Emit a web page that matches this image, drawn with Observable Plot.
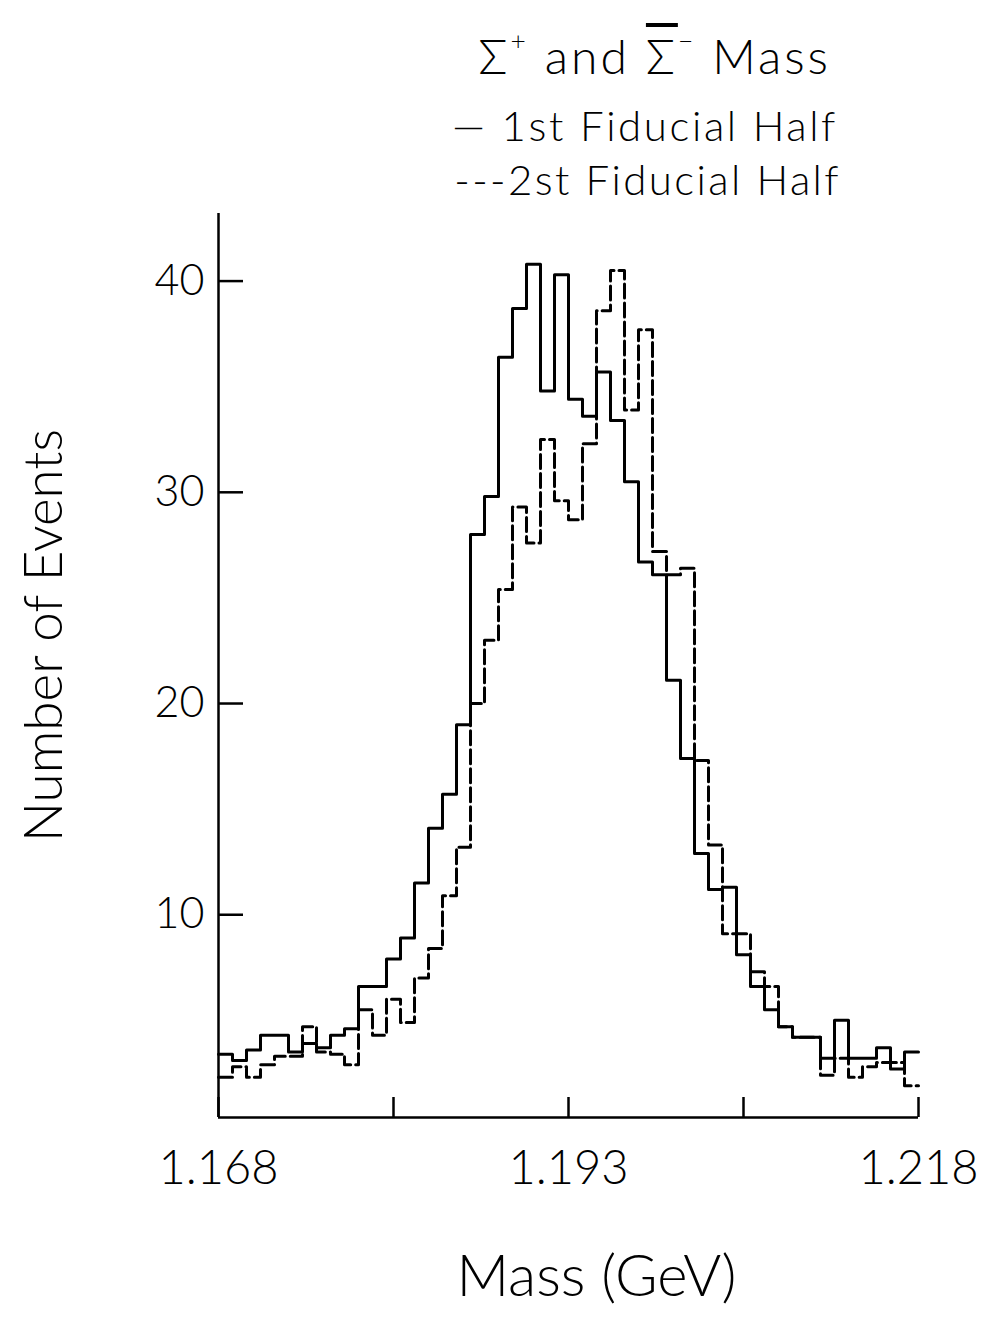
<!DOCTYPE html>
<html>
<head>
<meta charset="utf-8">
<script src="https://cdn.jsdelivr.net/npm/d3@7"></script>
<script src="https://cdn.jsdelivr.net/npm/@observablehq/plot@0.6"></script>
<style>
  html, body { margin: 0; padding: 0; background: #fff; }
  body { width: 989px; height: 1322px; position: relative; overflow: hidden;
         font-family: Lato, Roboto, "DejaVu Sans", sans-serif; color: #000; }
  #header { position: relative; width: 989px; height: 195px; }
  .hl { position: absolute; white-space: nowrap; font-weight: 300; line-height: 1; text-align: right; }
  #title { right: 158px; top: 27px; font-size: 48px; letter-spacing: 3px; }
  #leg1 { right: 151px; top: 104px; font-size: 42px; letter-spacing: 2.6px; }
  #leg2 { right: 148px; top: 158px; font-size: 42px; letter-spacing: 2.4px; }
  .ov { text-decoration: overline; }
  sup { font-size: 0.55em; vertical-align: 0.9em; }
</style>
</head>
<body>
<div id="header">
  <div class="hl" id="title">Σ<sup>+</sup> and <span class="ov">Σ</span><sup>−</sup> Mass</div>
  <div class="hl" id="leg1">— 1st Fiducial Half</div>
  <div class="hl" id="leg2">---2st Fiducial Half</div>
</div>
<div id="chart"></div>
<script>
// Bin edges (GeV), 1 MeV bins
const binEdges = [1.168,1.169,1.170,1.171,1.172,1.173,1.174,1.175,1.176,1.177,
                  1.178,1.179,1.180,1.181,1.182,1.183,1.184,1.185,1.186,1.187,
                  1.188,1.189,1.190,1.191,1.192,1.193,1.194,1.195,1.196,1.197,
                  1.198,1.199,1.200,1.201,1.202,1.203,1.204,1.205,1.206,1.207,
                  1.208,1.209,1.210,1.211,1.212,1.213,1.214,1.215,1.216,1.217,1.218];

// 1st fiducial half (solid)
const firstHalf = [3.4,3.1,3.6,4.3,4.3,3.5,3.9,3.7,4.3,4.6,
                   6.6,6.6,7.9,8.9,11.5,14.1,15.7,19.0,28.0,29.8,
                   36.4,38.7,40.8,34.8,40.3,34.4,33.6,35.7,33.4,30.5,
                   26.7,26.1,21.1,17.4,12.9,11.2,11.3,8.1,6.6,5.5,
                   4.7,4.2,4.2,3.2,5.0,3.2,3.2,3.7,2.7,3.5];

// 2nd fiducial half (dashed)
const secondHalf = [2.3,2.8,2.3,2.9,3.3,3.3,4.7,3.5,3.4,2.9,
                    5.5,4.3,6.0,4.9,7.0,8.4,10.9,13.2,20.0,23.0,
                    25.4,29.3,27.6,32.5,29.6,28.7,32.3,38.6,40.5,33.9,
                    37.7,27.2,26.1,26.4,17.3,13.3,9.1,9.1,7.3,6.6,
                    4.7,4.2,4.2,2.4,3.2,2.3,2.8,3.0,3.0,1.9];

const xDomain = [1.168, 1.218];
const yDomain = [0.4, 43.2];
const xTicks = [1.168, 1.1805, 1.193, 1.2055, 1.218];
const xTickLabels = [1.168, 1.193, 1.218];
const yTicks = [10, 20, 30, 40];

function steps(values) {
  const pts = [];
  values.forEach((v, i) => {
    pts.push({x: binEdges[i], y: v});
    pts.push({x: binEdges[i + 1], y: v});
  });
  return pts;
}

const font = "Lato, Roboto, 'DejaVu Sans', sans-serif";

const chart = Plot.plot({
  width: 989,
  height: 1127,
  marginLeft: 218,
  marginRight: 71,
  marginTop: 18,
  marginBottom: 205,
  x: {domain: xDomain},
  y: {domain: yDomain},
  style: {fontFamily: font, background: "white", color: "black"},
  marks: [
    Plot.ruleX([xDomain[0]], {strokeWidth: 2.5}),
    Plot.ruleY([yDomain[0]], {strokeWidth: 2.5}),
    Plot.axisX({ticks: xTicks, tickSize: -20, tickFormat: () => "", strokeWidth: 2.5, label: null}),
    Plot.axisX({ticks: xTickLabels, tickSize: 0, tickPadding: 33, fontSize: 47, fontWeight: 300,
                tickFormat: d3.format(".3f"), label: null}),
    Plot.axisY({ticks: yTicks, tickSize: -25, tickFormat: () => "", strokeWidth: 2.5, label: null}),
    Plot.axisY({ticks: yTicks, tickSize: 0, tickPadding: 14, fontSize: 43, fontWeight: 300, label: null}),
    Plot.line(steps(firstHalf), {x: "x", y: "y", strokeWidth: 3}),
    Plot.line(steps(secondHalf), {x: "x", y: "y", strokeWidth: 3, strokeDasharray: "14,5"}),
    Plot.text(["Number of Events"], {frameAnchor: "left", textAnchor: "middle", lineAnchor: "middle",
                                     rotate: -90, dx: -173, dy: -30, fontSize: 53, fontWeight: 300}),
    Plot.text(["Mass (GeV)"], {frameAnchor: "bottom", textAnchor: "middle", lineAnchor: "middle",
                               dx: 28, dy: 160, fontSize: 58, fontWeight: 300})
  ]
});
document.getElementById("chart").appendChild(chart);
</script>
</body>
</html>
